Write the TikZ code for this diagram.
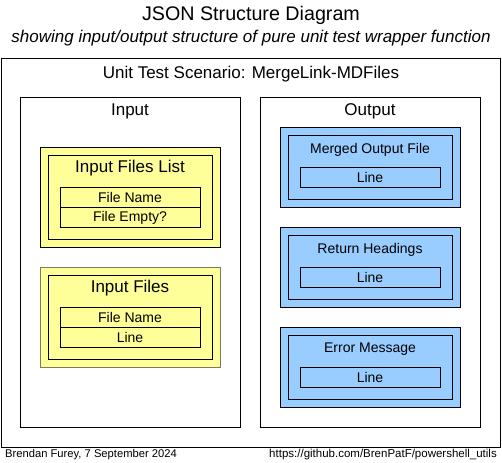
\documentclass[tikz,border=0pt]{standalone}
\usepackage{fontspec}
\setmainfont{Liberation Sans}
\usetikzlibrary{positioning}
\definecolor{boxYellow}{HTML}{FFFF99}
\definecolor{boxBlue}{HTML}{99CCFF}
\definecolor{edgeOlive}{HTML}{7A7A5C}
\begin{document}
\begin{tikzpicture}[
      x=1pt, y=-1pt,
      framebox/.style={
        rectangle, draw=black, line width=0.9pt, fill=white, inner sep=0pt
      },
      groupbox/.style={
        rectangle, draw=black, line width=0.9pt, inner sep=0pt,
        minimum width=180pt, minimum height=100pt
      },
      innerbox/.style={
        rectangle, draw=black, line width=0.9pt, inner sep=0pt,
        minimum width=164pt, minimum height=84pt
      },
      fieldrow/.style={
        rectangle, draw=black, line width=0.9pt, inner sep=0pt,
        minimum width=140pt, minimum height=20pt, font=\fontsize{14pt}{16pt}\selectfont
      },
      headtext/.style={inner sep=0pt, yshift=-1.5pt, font=\fontsize{17pt}{19pt}\selectfont},
      subhead/.style={inner sep=0pt, yshift=-1.5pt, font=\fontsize{14pt}{16pt}\selectfont}
    ]
      \useasboundingbox (0,0) rectangle (502,462);

      % titles
      \node[inner sep=0pt, yshift=-1pt, font=\fontsize{19.7pt}{22pt}\selectfont] (title) at (251,14) {JSON Structure Diagram};
      \node[inner sep=0pt, yshift=-1pt, font=\fontsize{17pt}{19pt}\selectfont\itshape] (subtitle) at (251,37)
        {showing input/output structure of pure unit test wrapper function};

      % scenario frame
      \node[framebox, minimum width=499pt, minimum height=389pt] (scenario) at (250.5,252.5) {};
      \node[headtext] (scenariolbl) at (251,73) {Unit Test Scenario: MergeLink-MDFiles};

      \node[framebox, minimum width=220pt, minimum height=330pt] (inpanel) at (130,262) {};
      \node[framebox, minimum width=220pt, minimum height=330pt] (outpanel) at (370,262) {};
      \node[headtext] (inlbl) at (130,110) {Input};
      \node[headtext] (outlbl) at (370,110) {Output};

      % input groups
      \node[groupbox, fill=boxYellow] (filelist) at (130,197) {};
      \node[innerbox, fill=boxYellow] (filelistin) at (130,197) {};
      \node[headtext] (filelistlbl) at (130,167) {Input Files List};
      \node[fieldrow, fill=boxYellow] (flname) at (130,197) {File Name};
      \node[fieldrow, fill=boxYellow, below=0pt of flname] (flempty) {File Empty?};

      \node[groupbox, fill=boxYellow, draw=edgeOlive] (infiles) at (130,317) {};
      \node[innerbox, fill=boxYellow] (infilesin) at (130,317) {};
      \node[headtext] (infileslbl) at (130,287) {Input Files};
      \node[fieldrow, fill=boxYellow] (ifname) at (130,317) {File Name};
      \node[fieldrow, fill=boxYellow, below=0pt of ifname] (ifline) {Line};

      % output groups
      \foreach \name/\lbl/\y in {merged/Merged Output File/167, headings/Return Headings/267, errmsg/Error Message/367} {
        \node[groupbox, fill=boxBlue, minimum height=80pt] (\name) at (370,\y) {};
        \node[innerbox, fill=boxBlue, minimum height=64pt] (\name in) at (370,\y) {};
        \node[subhead] (\name lbl) at (370,\y-19) {\lbl};
        \node[fieldrow, fill=boxBlue] (\name line) at (370,\y+10) {Line};
      }

      % footer
      \node[inner sep=0pt, anchor=west, font=\fontsize{11.2pt}{13pt}\selectfont] (author) at (5,455)
        {Brendan Furey, 7 September 2024};
      \node[inner sep=0pt, anchor=east, font=\fontsize{11.5pt}{13pt}\selectfont] (repo) at (497,455)
        {https://github.com/BrenPatF/powershell\_utils};
    \end{tikzpicture}
\end{document}
